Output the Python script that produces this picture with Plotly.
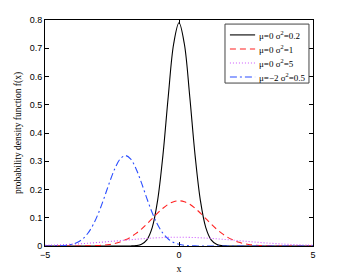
import plotly.graph_objects as go

x_vals = [-5.0, -4.8, -4.6, -4.4, -4.2, -4.0, -3.8, -3.6, -3.4, -3.2, -3.0, -2.8, -2.6, -2.4, -2.2,
          -2.0, -1.8, -1.6, -1.4, -1.2, -1.0, -0.8, -0.6, -0.4, -0.2, 0.0, 0.2, 0.4, 0.6, 0.8,
          1.0, 1.2, 1.4, 1.6, 1.8, 2.0, 2.2, 2.4, 2.6, 2.8, 3.0, 3.2, 3.4, 3.6, 3.8, 4.0, 4.2,
          4.4, 4.6, 4.8, 5.0]

y_black = [0, 0, 0, 0, 0, 0, 0, 0, 0, 0, 0, 0, 0, 0, 0, 0,
           0.0002, 0.0013, 0.0059, 0.0216, 0.065, 0.160, 0.321, 0.530, 0.715, 0.79,
           0.715, 0.530, 0.321, 0.160, 0.065, 0.0216, 0.0059, 0.0013, 0.0002,
           0, 0, 0, 0, 0, 0, 0, 0, 0, 0, 0, 0, 0, 0, 0, 0]

y_red = [0, 0, 0, 0, 0, 0,
         0.0001, 0.0002, 0.0005, 0.0010, 0.0018, 0.0032, 0.0054, 0.0090, 0.0142, 0.0217,
         0.0317, 0.0445, 0.0600, 0.0779, 0.0970, 0.1162, 0.1336, 0.1477, 0.1568, 0.16,
         0.1568, 0.1477, 0.1336, 0.1162, 0.0970, 0.0779, 0.0600, 0.0445, 0.0317, 0.0217,
         0.0142, 0.0090, 0.0054, 0.0032, 0.0018, 0.0010, 0.0005, 0.0002, 0.0001,
         0, 0, 0, 0, 0, 0]

y_magenta = [0.0025, 0.0031, 0.0037, 0.0045, 0.0053, 0.0063, 0.0073, 0.0085, 0.0098, 0.0111,
             0.0126, 0.0142, 0.0158, 0.0174, 0.0191, 0.0208, 0.0224, 0.0240, 0.0255, 0.0268,
             0.0281, 0.0291, 0.0299, 0.0305, 0.0309, 0.031, 0.0309, 0.0305, 0.0299, 0.0291,
             0.0281, 0.0268, 0.0255, 0.0240, 0.0224, 0.0208, 0.0191, 0.0174, 0.0158, 0.0142,
             0.0126, 0.0111, 0.0098, 0.0085, 0.0073, 0.0063, 0.0053, 0.0045, 0.0037, 0.0031,
             0.0025]

y_blue = [0, 0.0001, 0.0004, 0.0010, 0.0025, 0.0059, 0.0125, 0.0247, 0.0451, 0.0759,
          0.1177, 0.1687, 0.2233, 0.2727, 0.3075, 0.32, 0.3075, 0.2727, 0.2233, 0.1687,
          0.1177, 0.0759, 0.0451, 0.0247, 0.0125, 0.0059, 0.0025, 0.0010, 0.0004, 0.0001,
          0, 0, 0, 0, 0, 0, 0, 0, 0, 0, 0, 0, 0, 0, 0, 0, 0, 0, 0, 0, 0]

series_names = ["μ=0 σ<sup>2</sup>=0.2", "μ=0 σ<sup>2</sup>=1", "μ=0 σ<sup>2</sup>=5", "μ=−2 σ<sup>2</sup>=0.5"]
x_ticks = [-5, 0, 5]
y_ticks = [0, 0.1, 0.2, 0.3, 0.4, 0.5, 0.6, 0.7, 0.8]

fig = go.Figure()
styles = [("#000000", "solid"), ("#ff2020", "6px,4px"), ("#cc55ff", "1px,2px"), ("#2a4dff", "7px,3px,2px,3px")]
for ys, name, (c, d) in zip([y_black, y_red, y_magenta, y_blue], series_names, styles):
    fig.add_trace(go.Scatter(x=x_vals, y=ys, mode="lines", name=name, showlegend=False,
                             line=dict(color=c, dash=d, width=1.1, shape="spline")))

# manual compact legend (MATLAB style)
fig.add_shape(type="rect", xref="paper", yref="paper", x0=0.6716, x1=0.985, y0=0.721, y1=0.982,
              line=dict(color="#444", width=1), fillcolor="white", layer="above")
row_y = [0.934, 0.872, 0.810, 0.748]
for (c, d), name, ry in zip(styles, series_names, row_y):
    fig.add_shape(type="line", xref="paper", yref="paper", x0=0.69, x1=0.784, y0=ry, y1=ry,
                  line=dict(color=c, dash=d, width=1.1), layer="above")
    fig.add_annotation(xref="paper", yref="paper", x=0.79, y=ry, text=name, showarrow=False,
                       xanchor="left", yanchor="middle",
                       font=dict(family="Liberation Serif", size=9, color="#000"))

axis_common = dict(showline=True, linecolor="#000", linewidth=1, mirror="allticks",
                   ticks="inside", ticklen=4, tickcolor="#000", showgrid=False, zeroline=False,
                   automargin=False,
                   tickfont=dict(family="Liberation Sans", size=9, color="#000"))
fig.update_xaxes(range=[-5, 5], tickvals=x_ticks, ticktext=["−5", "0", "5"],
                 title=dict(text="x", font=dict(family="Liberation Serif", size=10, color="#000"), standoff=6),
                 **axis_common)
fig.update_yaxes(range=[0, 0.8], tickvals=y_ticks, ticktext=[str(v) if v else "0" for v in y_ticks],
                 title=dict(text="probability density function f(x)",
                            font=dict(family="Liberation Serif", size=9.5, color="#000"), standoff=6),
                 **axis_common)
# page body has an 8px default margin, so the figure is offset by 8px
fig.update_layout(width=338, height=269, margin=dict(l=37, r=33, t=12, b=31),
                  paper_bgcolor="white", plot_bgcolor="white", showlegend=False)
fig.write_html("out.html")
